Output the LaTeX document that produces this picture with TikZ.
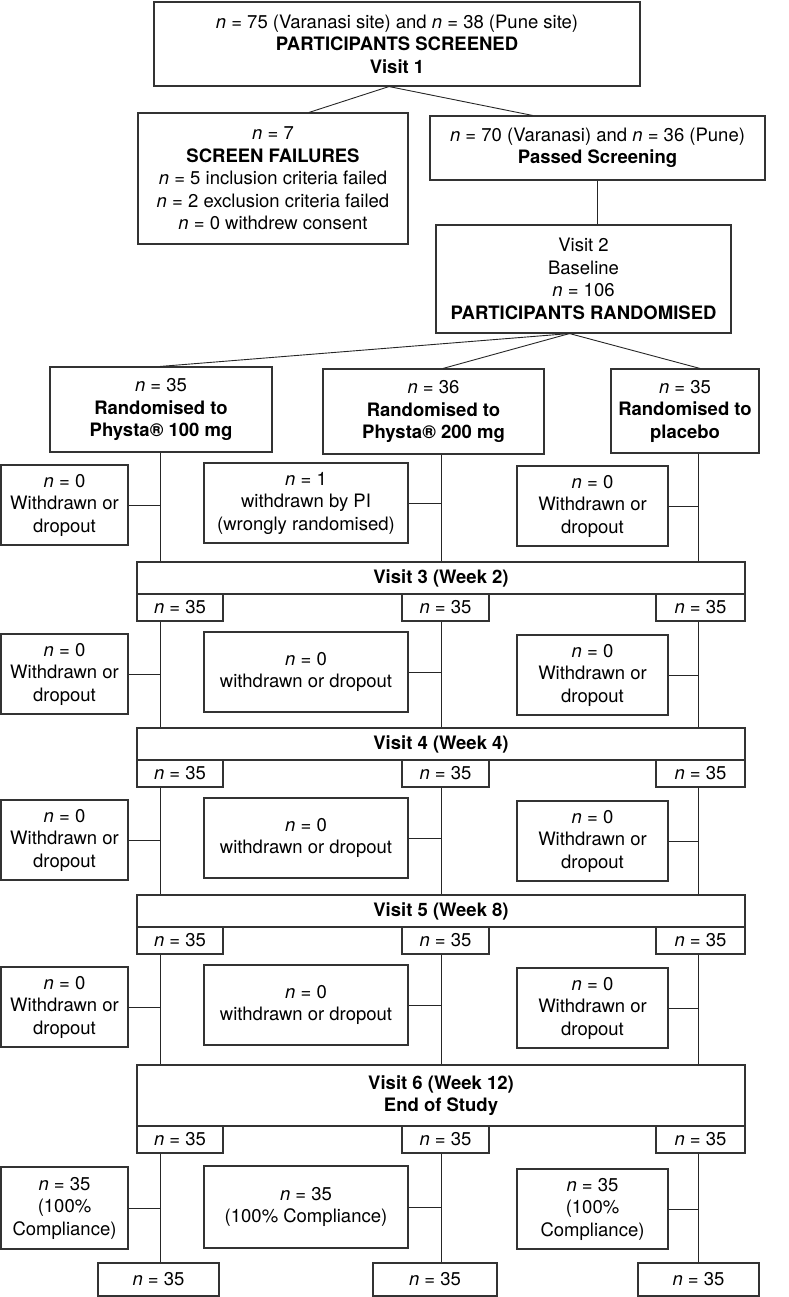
\documentclass[tikz,border=0pt]{standalone}
\usepackage{fontspec}
\setmainfont{TeX Gyre Heros}
\begin{document}
\begin{tikzpicture}[x=1pt,y=-1pt,
  box/.style={draw=black!80, line width=1.1pt, align=center, inner sep=1pt,
    font=\fontsize{18.5}{22.5}\selectfont},
  conn/.style={draw=black!85, line width=0.9pt},
  nn/.style={box, minimum height=27}
]
\useasboundingbox (0,0) rectangle (788,1297);
\newcommand\nI{\textit{n}}
% top part
\node[box, minimum width=486, minimum height=84] (top) at (397,44)
  {\nI{} = 75 (Varanasi site) and \nI{} = 38 (Pune site)\\\textbf{PARTICIPANTS SCREENED}\\\textbf{Visit 1}};
\node[box, minimum width=270, minimum height=131] (sf) at (273,178.5)
  {\nI{} = 7\\\textbf{SCREEN FAILURES}\\\nI{} = 5 inclusion criteria failed\\\nI{} = 2 exclusion criteria failed\\\nI{} = 0 withdrew consent};
\node[box, minimum width=335, minimum height=64] (pass) at (597.5,148)
  {\nI{} = 70 (Varanasi) and \nI{} = 36 (Pune)\\\textbf{Passed Screening}};
\node[box, minimum width=295, minimum height=108] (v2) at (583.5,279)
  {Visit 2\\Baseline\\\nI{} = 106\\\textbf{PARTICIPANTS RANDOMISED}};
\draw[conn] ([xshift=-8]top.south) -- ([xshift=36]sf.north);
\draw[conn] ([xshift=-8]top.south) -- ([xshift=-65]pass.north);
\coordinate (xa) at (160,0);
\coordinate (xb) at (441,0);
\coordinate (xc) at (698,0);
\coordinate (xp) at (597,0);
\draw[conn] (xp |- pass.south) -- (xp |- v2.north);
% randomised boxes
\node[box, minimum width=222, minimum height=85] (r1) at (161,409.5)
  {\nI{} = 35\\\textbf{Randomised to}\\\textbf{Physta® 100 mg}};
\node[box, minimum width=221, minimum height=85] (r2) at (433.5,411.5)
  {\nI{} = 36\\\textbf{Randomised to}\\\textbf{Physta® 200 mg}};
\node[box, minimum width=148, minimum height=84] (r3) at (685,411)
  {\nI{} = 35\\\textbf{Randomised to}\\\textbf{placebo}};
\draw[conn] ([xshift=-14]v2.south) -- (xa |- r1.north);
\draw[conn] ([xshift=-14]v2.south) -- ([xshift=2]xb |- r2.north);
\draw[conn] ([xshift=-14]v2.south) -- ([xshift=2]xc |- r3.north);
% visit bars
\node[box, minimum width=608, minimum height=32] (v3) at (441,578) {\textbf{Visit 3 (Week 2)}};
\node[box, minimum width=608, minimum height=32] (v4) at (441,744) {\textbf{Visit 4 (Week 4)}};
\node[box, minimum width=608, minimum height=32] (v5) at (441,911) {\textbf{Visit 5 (Week 8)}};
\node[box, minimum width=608, minimum height=61] (v6) at (441,1095.5) {\textbf{Visit 6 (Week 12)}\\\textbf{End of Study}};
\foreach \v/\y in {3/607.5,4/773.5,5/940.5,6/1139.5}{
  \node[nn, minimum width=86] (n\v a) at (180,\y) {\nI{} = 35};
  \node[nn, minimum width=87] (n\v b) at (445.5,\y) {\nI{} = 35};
  \node[nn, minimum width=89] (n\v c) at (700.5,\y) {\nI{} = 35};
}
% withdrawn rows
\node[box, minimum width=127, minimum height=80] (w1a) at (64.5,505) {\nI{} = 0\\Withdrawn or\\dropout};
\node[box, minimum width=204, minimum height=80] (w1b) at (306,503) {\nI{} = 1\\withdrawn by PI\\(wrongly randomised)};
\node[box, minimum width=151, minimum height=80] (w1c) at (592.5,506) {\nI{} = 0\\Withdrawn or\\dropout};
\foreach \r/\y in {2/674,3/840,4/1007}{
  \node[box, minimum width=127, minimum height=80] (w\r a) at (64.5,\y) {\nI{} = 0\\Withdrawn or\\dropout};
  \node[box, minimum width=204, minimum height=80] (w\r b) at (306,\y-2) {\nI{} = 0\\withdrawn or dropout};
  \node[box, minimum width=151, minimum height=80] (w\r c) at (592.5,\y+1) {\nI{} = 0\\Withdrawn or\\dropout};
}
\node[box, minimum width=127, minimum height=82] (w5a) at (64.5,1208) {\nI{} = 35\\(100\%\\Compliance)};
\node[box, minimum width=204, minimum height=82] (w5b) at (306,1207) {\nI{} = 35\\(100\% Compliance)};
\node[box, minimum width=151, minimum height=80] (w5c) at (592.5,1209) {\nI{} = 35\\(100\%\\Compliance)};
% final boxes
\node[box, minimum width=121, minimum height=33] (fa) at (158.5,1279.5) {\nI{} = 35};
\node[box, minimum width=124, minimum height=33] (fb) at (435,1279.5) {\nI{} = 35};
\node[box, minimum width=121, minimum height=33] (fc) at (698.5,1279.5) {\nI{} = 35};
% vertical connectors
\draw[conn] (xa |- r1.south) -- (xa |- v3.north);
\draw[conn] (xb |- r2.south) -- (xb |- v3.north);
\draw[conn] (xc |- r3.south) -- (xc |- v3.north);
\foreach \p/\q in {3/4,4/5,5/6}{
  \draw[conn] (xa |- n\p a.south) -- (xa |- v\q.north);
  \draw[conn] (xb |- n\p b.south) -- (xb |- v\q.north);
  \draw[conn] (xc |- n\p c.south) -- (xc |- v\q.north);
}
\draw[conn] (xa |- n6a.south) -- (xa |- fa.north);
\draw[conn] (xb |- n6b.south) -- (xb |- fb.north);
\draw[conn] (xc |- n6c.south) -- (xc |- fc.north);
% horizontal connectors
\foreach \r in {1,2,3,4,5}{
  \draw[conn] (w\r a.east) -- (xa |- w\r a.east);
  \draw[conn] (w\r b.east) -- (xb |- w\r b.east);
  \draw[conn] (w\r c.east) -- (xc |- w\r c.east);
}
\end{tikzpicture}
\end{document}
